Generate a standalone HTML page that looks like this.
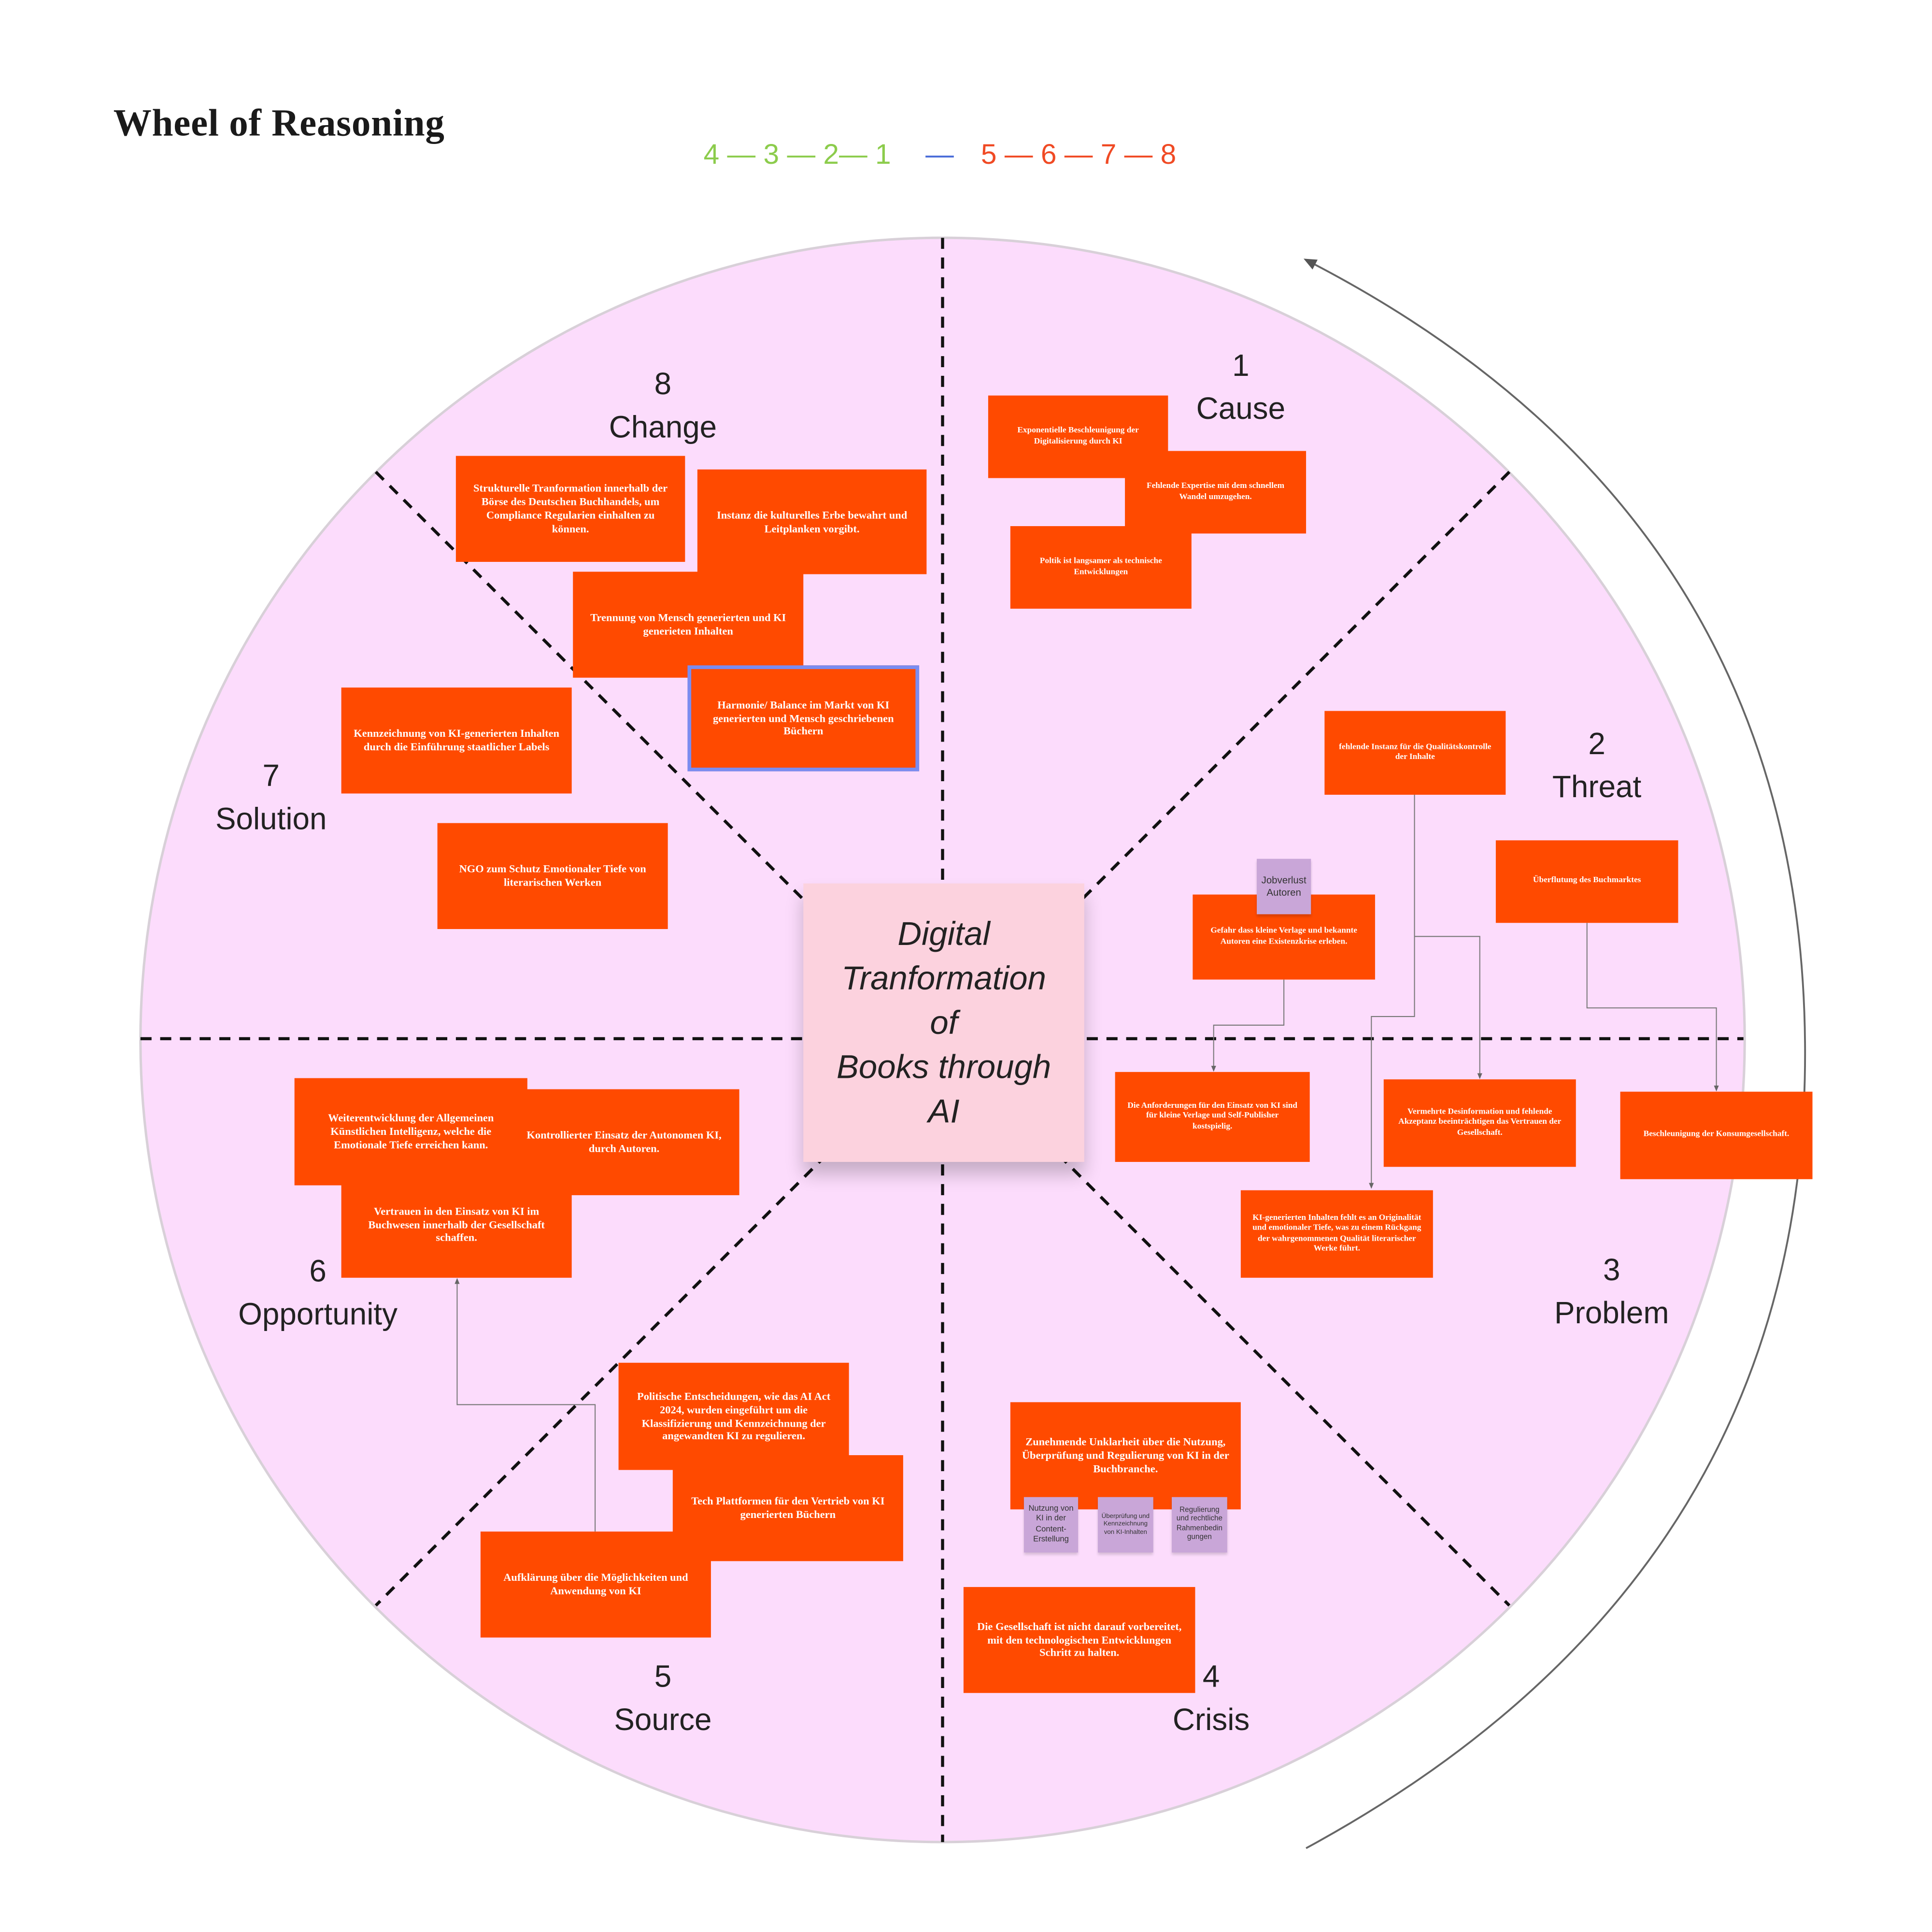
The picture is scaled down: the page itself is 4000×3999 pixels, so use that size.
<!DOCTYPE html>
<html><head><meta charset="utf-8"><style>
html,body{margin:0;padding:0;background:#fff;}
body{width:4000px;height:3999px;overflow:hidden;}
#s{position:absolute;left:0;top:0;width:1568px;height:1568px;transform-origin:0 0;transform:scale(2.5510,2.5504);font-family:"Liberation Sans",sans-serif;}
.b{position:absolute;background:#ff4a00;color:#fff;font-family:"Liberation Serif",serif;font-weight:bold;font-size:8.8px;line-height:1.25;display:flex;align-items:center;justify-content:center;text-align:center;padding:0 9px;box-sizing:border-box;}
.sm{font-size:6.8px;}
.p{position:absolute;background:#c9a6d8;color:#333;font-size:5.2px;line-height:1.25;display:flex;align-items:center;justify-content:center;text-align:center;box-sizing:border-box;padding:1px;box-shadow:0 2px 2px rgba(0,0,0,.15);}
.l{position:absolute;font-size:25px;color:#222;text-align:center;line-height:35px;transform:translateX(-50%);white-space:nowrap;}
</style></head><body><div id="s">
<svg width="1568" height="1568" style="position:absolute;left:0;top:0">
<defs><marker id="a" markerWidth="8" markerHeight="8" refX="4" refY="4" orient="auto"><path d="M0,1 L7,4 L0,7 z" fill="#555"/></marker>
<marker id="s2" markerWidth="6" markerHeight="6" refX="5" refY="3" orient="auto"><path d="M0,0.5 L6,3 L0,5.5 z" fill="#666"/></marker></defs>
<circle cx="765" cy="844" r="651" fill="#fcdcfc" stroke="#d8d0d8" stroke-width="2"/>
<g stroke="#111" stroke-width="2.5" stroke-dasharray="9,7" fill="none">
<line x1="765" y1="193" x2="765" y2="1495"/>
<line x1="114" y1="843" x2="1415" y2="843"/>
<line x1="305" y1="383" x2="1225" y2="1303"/>
<line x1="1225" y1="383" x2="305" y2="1303"/>
</g>
<path d="M1060,1500 Q1465,1280 1465,855 Q1465,420 1062,212" fill="none" stroke="#666" stroke-width="1.5" marker-end="url(#a)"/>
<g fill="none" stroke="#777" stroke-width="0.8">
<path d="M1148,645 V825 H1113 V964" marker-end="url(#s2)"/>
<path d="M1148,760 H1201 V875" marker-end="url(#s2)"/>
<path d="M1042,795 V832 H985 V869" marker-end="url(#s2)"/>
<path d="M1288,749 V818 H1393 V885" marker-end="url(#s2)"/>
<path d="M483,1243 V1140 H371 V1038" marker-end="url(#s2)"/>
</g>
</svg>
<div style="position:absolute;left:92px;top:82px;font-family:'Liberation Serif',serif;font-weight:bold;font-size:31px;letter-spacing:0.3px;color:#1a1a1a">Wheel of Reasoning</div>
<div style="position:absolute;left:571px;top:112px;font-size:23px;white-space:nowrap"><span style="color:#8ccc4c">4 — 3 — 2— 1</span><span style="color:#4a6cd8;margin-left:28px">—</span><span style="color:#f04a24;margin-left:22px">5 — 6 — 7 — 8</span></div>
<div style="position:absolute;left:652px;top:717px;width:228px;height:226px;background:#fcd2de;box-shadow:0 10px 14px rgba(0,0,0,.22);display:flex;align-items:center;justify-content:center;text-align:center;font-style:italic;font-size:27px;line-height:36px;color:#222">Digital<br>Tranformation<br>of<br>Books through<br>AI</div>
<div class="l" style="left:1007px;top:280px">1<br>Cause</div>
<div class="l" style="left:1296px;top:587px">2<br>Threat</div>
<div class="l" style="left:1308px;top:1014px">3<br>Problem</div>
<div class="l" style="left:983px;top:1344px">4<br>Crisis</div>
<div class="l" style="left:538px;top:1344px">5<br>Source</div>
<div class="l" style="left:258px;top:1015px">6<br>Opportunity</div>
<div class="l" style="left:220px;top:613px">7<br>Solution</div>
<div class="l" style="left:538px;top:295px">8<br>Change</div>

<div class="b sm" style="left:802px;top:321px;width:146px;height:67px">Exponentielle Beschleunigung der Digitalisierung durch KI</div>
<div class="b sm" style="left:913px;top:366px;width:147px;height:67px">Fehlende Expertise mit dem schnellem Wandel umzugehen.</div>
<div class="b sm" style="left:820px;top:427px;width:147px;height:67px">Poltik ist langsamer als technische Entwicklungen</div>
<div class="b sm" style="left:1075px;top:577px;width:147px;height:68px">fehlende Instanz für die Qualitätskontrolle der Inhalte</div>
<div class="b sm" style="left:1214px;top:682px;width:148px;height:67px">Überflutung des Buchmarktes</div>
<div class="b sm" style="left:968px;top:726px;width:148px;height:69px">Gefahr dass kleine Verlage und bekannte Autoren eine Existenzkrise erleben.</div>
<div class="p" style="left:1020px;top:697px;width:44px;height:45px;font-size:8px">Jobverlust Autoren</div>
<div class="b sm" style="left:905px;top:870px;width:158px;height:73px">Die Anforderungen für den Einsatz von KI sind für kleine Verlage und Self-Publisher kostspielig.</div>
<div class="b sm" style="left:1123px;top:876px;width:156px;height:71px">Vermehrte Desinformation und fehlende Akzeptanz beeinträchtigen das Vertrauen der Gesellschaft.</div>
<div class="b sm" style="left:1315px;top:886px;width:156px;height:71px">Beschleunigung der Konsumgesellschaft.</div>
<div class="b sm" style="left:1007px;top:966px;width:156px;height:71px">KI-generierten Inhalten fehlt es an Originalität und emotionaler Tiefe, was zu einem Rückgang der wahrgenommenen Qualität literarischer Werke führt.</div>
<div class="b" style="left:820px;top:1138px;width:187px;height:87px">Zunehmende Unklarheit über die Nutzung, Überprüfung und Regulierung von KI in der Buchbranche.</div>
<div class="p" style="left:831px;top:1215px;width:44px;height:45px;font-size:6.5px">Nutzung von KI in der Content-Erstellung</div>
<div class="p" style="left:891px;top:1215px;width:45px;height:45px">Überprüfung und Kennzeichnung von KI-Inhalten</div>
<div class="p" style="left:951px;top:1215px;width:45px;height:45px;font-size:6px">Regulierung und rechtliche Rahmenbedin gungen</div>
<div class="b" style="left:782px;top:1288px;width:188px;height:86px">Die Gesellschaft ist nicht darauf vorbereitet, mit den technologischen Entwicklungen Schritt zu halten.</div>
<div class="b" style="left:502px;top:1106px;width:187px;height:87px">Politische Entscheidungen, wie das AI Act 2024, wurden eingeführt um die Klassifizierung und Kennzeichnung der angewandten KI zu regulieren.</div>
<div class="b" style="left:546px;top:1181px;width:187px;height:86px">Tech Plattformen für den Vertrieb von KI generierten Büchern</div>
<div class="b" style="left:390px;top:1243px;width:187px;height:86px">Aufklärung über die Möglichkeiten und Anwendung von KI</div>
<div class="b" style="left:239px;top:875px;width:189px;height:87px">Weiterentwicklung der Allgemeinen Künstlichen Intelligenz, welche die Emotionale Tiefe erreichen kann.</div>
<div class="b" style="left:277px;top:951px;width:187px;height:86px">Vertrauen in den Einsatz von KI im Buchwesen innerhalb der Gesellschaft schaffen.</div>
<div class="b" style="left:413px;top:884px;width:187px;height:86px">Kontrollierter Einsatz der Autonomen KI, durch Autoren.</div>
<div class="b" style="left:277px;top:558px;width:187px;height:86px">Kennzeichnung von KI-generierten Inhalten durch die Einführung staatlicher Labels</div>
<div class="b" style="left:355px;top:668px;width:187px;height:86px">NGO zum Schutz Emotionaler Tiefe von literarischen Werken</div>
<div class="b" style="left:370px;top:370px;width:186px;height:86px">Strukturelle Tranformation innerhalb der Börse des Deutschen Buchhandels, um Compliance Regularien einhalten zu können.</div>
<div class="b" style="left:566px;top:381px;width:186px;height:85px">Instanz die kulturelles Erbe bewahrt und Leitplanken vorgibt.</div>
<div class="b" style="left:465px;top:464px;width:187px;height:86px">Trennung von Mensch generierten und KI generieten Inhalten</div>
<div class="b" style="left:558px;top:540px;width:188px;height:86px;border:3px solid #7a8cf0">Harmonie/ Balance im Markt von KI generierten und Mensch geschriebenen Büchern</div>
</div></body></html>
